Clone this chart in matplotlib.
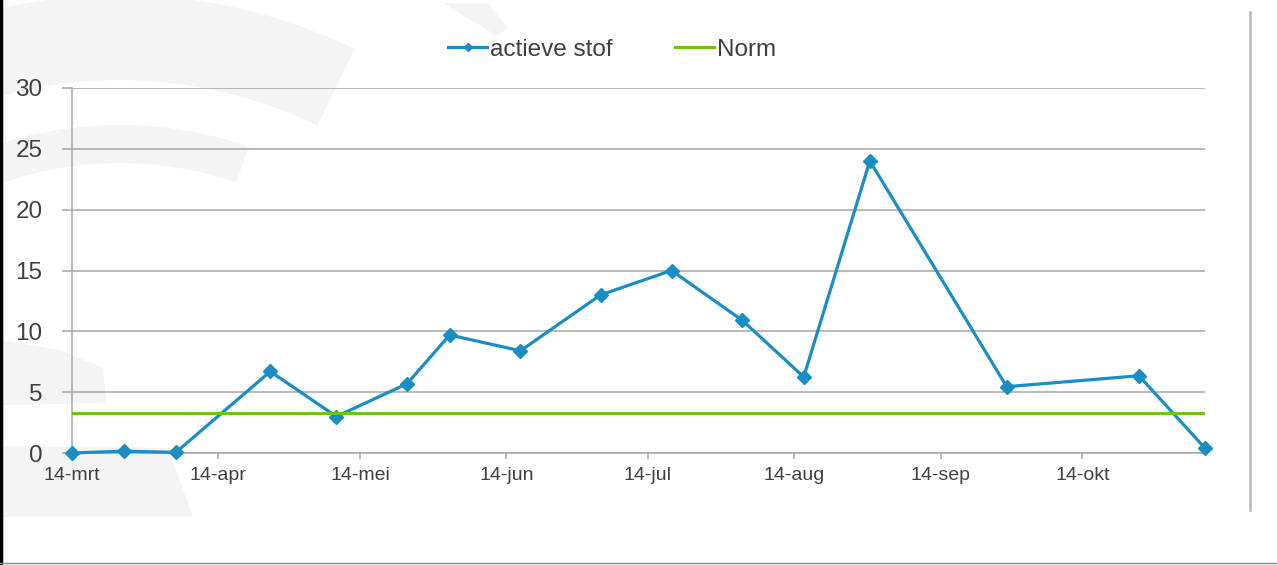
import matplotlib
matplotlib.use("Agg")
import matplotlib.pyplot as plt
from matplotlib.patches import Wedge, Polygon
from datetime import datetime

plt.rcParams['font.family'] = ['Liberation Sans', 'DejaVu Sans']

# meetdata (datum, waarde)
datums = ['2014-03-14', '2014-03-25', '2014-04-05', '2014-04-25', '2014-05-09',
          '2014-05-24', '2014-06-02', '2014-06-17', '2014-07-04', '2014-07-19',
          '2014-08-03', '2014-08-16', '2014-08-30', '2014-09-28', '2014-10-26',
          '2014-11-09']
actieve_stof = [0.0, 0.15, 0.05, 6.7, 3.0, 5.7, 9.7, 8.4, 13.0, 15.0,
                10.9, 6.25, 24.0, 5.45, 6.35, 0.4]
norm = 3.3

tick_datums = ['2014-03-14', '2014-04-14', '2014-05-14', '2014-06-14',
               '2014-07-14', '2014-08-14', '2014-09-14', '2014-10-14']
tick_labels = ['14-mrt', '14-apr', '14-mei', '14-jun', '14-jul', '14-aug',
               '14-sep', '14-okt']
y_ticks = [0, 5, 10, 15, 20, 25, 30]

blauw = '#1a8ec4'
groen = '#6cc417'
grijs = '#a6a6a6'
tekst = '#404040'

x = [datetime.strptime(d, '%Y-%m-%d') for d in datums]
xt = [datetime.strptime(d, '%Y-%m-%d') for d in tick_datums]

W, H = 1277, 565
fig = plt.figure(figsize=(W / 100, H / 100), dpi=100)

# achtergrond met watermerk (pixel-coordinaten)
bg = fig.add_axes([0, 0, 1, 1], zorder=0)
bg.set_xlim(0, W)
bg.set_ylim(H, 0)
bg.axis('off')
wm = '#f4f4f4'
bg.add_patch(Wedge((120, 530), 535, -165, -64, width=85, color=wm, lw=0))
bg.add_patch(Wedge((120, 520), 395, -178, -71, width=38, color=wm, lw=0))
bg.add_patch(Polygon([(0, 340), (60, 350), (103, 368), (106, 403), (0, 405)],
                     closed=True, color=wm, lw=0))
bg.add_patch(Polygon([(0, 446), (168, 448), (193, 517), (0, 517)],
                     closed=True, color=wm, lw=0))
bg.add_patch(Polygon([(443, 3), (488, 3), (508, 28), (497, 36)],
                     closed=True, color=wm, lw=0))
bg.plot([1250, 1250], [12, 510], color='#b4bac4', lw=1.8)
bg.plot([1, 1], [0, H], color='black', lw=2.5)
bg.plot([0, W], [563, 563], color='#8c8c8c', lw=1)

ax = fig.add_axes([72 / W, (H - 453) / H, (1205 - 72) / W, (453 - 88) / H], zorder=1)
ax.patch.set_alpha(0)

ax.plot(x, actieve_stof, color=blauw, lw=2.3, marker='D', ms=7,
        mfc=blauw, mec=blauw, label='actieve stof', clip_on=False, zorder=3)
ax.axhline(norm, color=groen, lw=2.2, label='Norm', zorder=4)

ax.set_xlim(x[0], x[-1])
ax.set_ylim(0, 30)
ax.set_yticks(y_ticks)
ax.set_xticks(xt)
ax.set_xticklabels(tick_labels)
ax.yaxis.grid(True, color=grijs, lw=1.1)
ax.set_axisbelow(True)

for s in ['top', 'right']:
    ax.spines[s].set_visible(False)
for s in ['left', 'bottom']:
    ax.spines[s].set_color(grijs)
    ax.spines[s].set_linewidth(1.1)

ax.tick_params(axis='y', direction='out', length=7.2, width=1.1, color=grijs,
               labelsize=17.5, labelcolor=tekst, pad=14)
ax.tick_params(axis='x', direction='out', length=4.3, width=1.1, color=grijs,
               labelsize=14, labelcolor=tekst, pad=6)

leg = fig.legend(loc='center', bbox_to_anchor=(612 / W, 1 - 50 / H), ncol=2,
                 frameon=False, fontsize=17.5, handlelength=1.6, handletextpad=0.1,
                 columnspacing=2.6, markerscale=0.6)
for t in leg.get_texts():
    t.set_color(tekst)

fig.savefig('out.png', dpi=100)
